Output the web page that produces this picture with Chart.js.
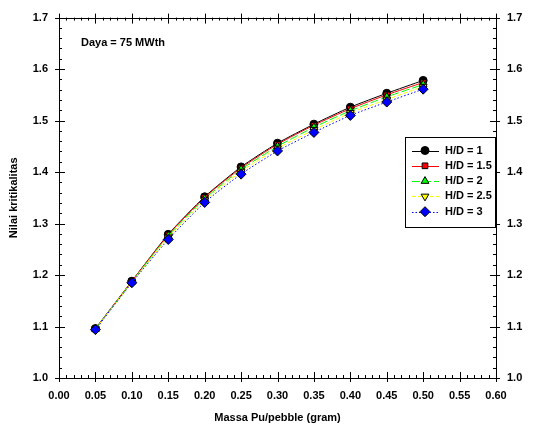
<!DOCTYPE html>
<html>
<head>
<meta charset="utf-8">
<script src="https://cdn.jsdelivr.net/npm/chart.js@4.4.1/dist/chart.umd.min.js"></script>
<style>
html, body { margin: 0; padding: 0; background: #fff; }
</style>
</head>
<body>
<canvas id="kritikalitas" width="543" height="428"></canvas>
<script>
// massa Pu per pebble (gram)
var massa = [0.05, 0.10, 0.15, 0.20, 0.25, 0.30, 0.35, 0.40, 0.45, 0.50];
// nilai kritikalitas per H/D
var hd1   = [1.096, 1.188, 1.279, 1.352, 1.410, 1.456, 1.493, 1.526, 1.553, 1.578];
var hd15  = [1.095, 1.188, 1.278, 1.351, 1.408, 1.454, 1.491, 1.523, 1.550, 1.574];
var hd2   = [1.095, 1.187, 1.276, 1.348, 1.405, 1.450, 1.487, 1.519, 1.546, 1.570];
var hd25  = [1.095, 1.186, 1.273, 1.345, 1.401, 1.446, 1.482, 1.515, 1.541, 1.566];
var hd3   = [1.094, 1.185, 1.269, 1.341, 1.396, 1.441, 1.477, 1.510, 1.536, 1.561];
var seriesLabels = ['H/D = 1', 'H/D = 1.5', 'H/D = 2', 'H/D = 2.5', 'H/D = 3'];

var xTicks = [0.00, 0.05, 0.10, 0.15, 0.20, 0.25, 0.30, 0.35, 0.40, 0.45, 0.50, 0.55, 0.60];
var yTicks = [1.0, 1.1, 1.2, 1.3, 1.4, 1.5, 1.6, 1.7];

var FONT = 'Liberation Sans, Arial, sans-serif';

function toPoints(ys) {
  return massa.map(function (m, i) { return { x: m, y: ys[i] }; });
}

function ds(label, ys, color, style, dash, radius, order, rot) {
  return {
    label: label,
    data: toPoints(ys),
    order: order,
    borderColor: color,
    borderWidth: 1,
    borderDash: dash,
    backgroundColor: color,
    pointStyle: style,
    pointRadius: radius,
    pointRotation: rot || 0,
    pointBackgroundColor: color,
    pointBorderColor: '#000',
    pointBorderWidth: 1,
    tension: 0.2,
    fill: false
  };
}

// later series drawn on top, like the original
var datasets = [
  ds(seriesLabels[0], hd1, '#000000', 'circle', [], 4, 4),
  ds(seriesLabels[1], hd15, '#ff0000', 'rect', [], 4, 3),
  ds(seriesLabels[2], hd2, '#00ff00', 'triangle', [8, 3], 4.5, 2),
  ds(seriesLabels[3], hd25, '#ffff00', 'triangle', [4, 2], 4.5, 1, 180),
  ds(seriesLabels[4], hd3, '#0000ff', 'rectRot', [1.5, 2], 5, 0)
];

function setTicks(vals) {
  return function (scale) { scale.ticks = vals.map(function (v) { return { value: v }; }); };
}

// frame, ticks, annotation and legend
var framePlugin = {
  id: 'frame',
  afterDraw: function (chart) {
    var c = chart.ctx, a = chart.chartArea;
    var xs = chart.scales.x, ys = chart.scales.y;
    c.save();
    c.strokeStyle = '#000';
    c.lineWidth = 1;
    c.strokeRect(Math.round(a.left) + 0.5, Math.round(a.top) + 0.5,
      Math.round(a.right - a.left), Math.round(a.bottom - a.top));
    c.beginPath();
    var v, p, i;
    // x ticks (minor every 0.01)
    for (i = 0; i <= 60; i++) {
      v = i / 100;
      p = Math.round(xs.getPixelForValue(v)) + 0.5;
      if (i % 5 === 0) {
        c.moveTo(p, a.bottom + 4); c.lineTo(p, a.bottom - 6);
        c.moveTo(p, a.top - 4); c.lineTo(p, a.top + 6);
      } else {
        c.moveTo(p, a.bottom); c.lineTo(p, a.bottom - 3);
        c.moveTo(p, a.top); c.lineTo(p, a.top + 3);
      }
    }
    // y ticks (minor every 0.02)
    for (i = 0; i <= 35; i++) {
      v = 1.0 + i * 0.02;
      p = Math.round(ys.getPixelForValue(v)) + 0.5;
      if (i % 5 === 0) {
        c.moveTo(a.left - 4, p); c.lineTo(a.left + 6, p);
        c.moveTo(a.right + 4, p); c.lineTo(a.right - 6, p);
      } else {
        c.moveTo(a.left, p); c.lineTo(a.left + 3, p);
        c.moveTo(a.right, p); c.lineTo(a.right - 3, p);
      }
    }
    c.stroke();

    // annotation
    c.fillStyle = '#000';
    c.font = 'bold 11px ' + FONT;
    c.textAlign = 'left';
    c.textBaseline = 'middle';
    c.fillText('Daya = 75 MWth', a.left + 22, 43);

    // legend
    var bx = 405, by = 137, bw = 90, bh = 90;
    c.fillStyle = '#fff';
    c.fillRect(bx, by, bw, bh);
    c.strokeStyle = '#000';
    c.lineWidth = 1;
    c.strokeRect(bx + 0.5, by + 0.5, bw, bh);
    chart.data.datasets.forEach(function (d, k) {
      var yy = by + 13.5 + k * 15.3;
      c.save();
      c.strokeStyle = d.borderColor;
      c.lineWidth = 1;
      c.setLineDash(d.borderDash);
      c.beginPath();
      c.moveTo(bx + 7, Math.round(yy) + 0.5);
      c.lineTo(bx + 34, Math.round(yy) + 0.5);
      c.stroke();
      c.setLineDash([]);
      c.fillStyle = d.pointBackgroundColor;
      c.strokeStyle = d.pointBorderColor;
      Chart.helpers.drawPoint(c, {
        pointStyle: d.pointStyle, radius: d.pointRadius,
        rotation: d.pointRotation, borderWidth: 1
      }, bx + 20, yy);
      c.restore();
      c.fillStyle = '#000';
      c.font = 'bold 11px ' + FONT;
      c.textBaseline = 'middle';
      c.fillText(d.label, bx + 40, yy);
    });
    c.restore();
  }
};

var ctx = document.getElementById('kritikalitas');
var chart = new Chart(ctx, {
  type: 'line',
  data: { datasets: datasets },
  plugins: [framePlugin],
  options: {
    responsive: false,
    animation: false,
    layout: { padding: { top: 16, left: 0, right: 0, bottom: 0 } },
    plugins: { legend: { display: false }, tooltip: { enabled: false } },
    scales: {
      x: {
        type: 'linear', min: 0, max: 0.6,
        afterBuildTicks: setTicks(xTicks),
        afterFit: function (s) { s.height = 50; },
        grid: { display: false, drawTicks: false },
        border: { display: false },
        ticks: {
          color: '#000', padding: 11, maxRotation: 0, autoSkip: false,
          font: { family: FONT, size: 11, weight: 'bold' },
          callback: function (v) { return v.toFixed(2); }
        },
        title: {
          display: true, text: 'Massa Pu/pebble (gram)', color: '#000',
          font: { family: FONT, size: 11, weight: 'bold' },
          padding: { top: 0, bottom: 3 }
        }
      },
      y: {
        type: 'linear', position: 'left', min: 1.0, max: 1.7,
        afterBuildTicks: setTicks(yTicks),
        afterFit: function (s) { s.width = 59; },
        grid: { display: false, drawTicks: false },
        border: { display: false },
        ticks: {
          color: '#000', padding: 11,
          font: { family: FONT, size: 11, weight: 'bold' },
          callback: function (v) { return v.toFixed(1); }
        },
        title: {
          display: true, text: 'Nilai kritikalitas', color: '#000',
          font: { family: FONT, size: 11, weight: 'bold' },
          padding: { top: 7, bottom: 0 }
        }
      },
      y2: {
        type: 'linear', position: 'right', min: 1.0, max: 1.7,
        afterBuildTicks: setTicks(yTicks),
        afterFit: function (s) { s.width = 47; },
        grid: { display: false, drawTicks: false },
        border: { display: false },
        ticks: {
          color: '#000', padding: 11,
          font: { family: FONT, size: 11, weight: 'bold' },
          callback: function (v) { return v.toFixed(1); }
        }
      }
    }
  }
});
</script>
</body>
</html>
